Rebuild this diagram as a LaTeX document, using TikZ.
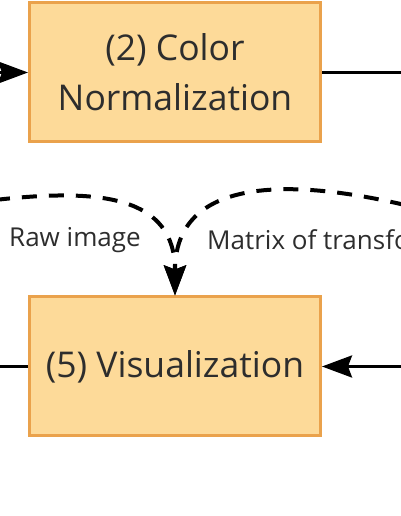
\documentclass[tikz,border=0pt]{standalone}
\usepackage{fontspec}
\setmainfont{Open Sans}
\usetikzlibrary{arrows.meta}
\definecolor{stagefill}{RGB}{253,218,153}
\definecolor{stageline}{RGB}{234,162,76}
\definecolor{labelgray}{RGB}{45,45,45}

\begin{document}
\begin{tikzpicture}[x=1pt,y=1pt]
  \useasboundingbox (0,0) rectangle (400,516);
  \tikzset{stagebox/.style={draw=stageline,fill=stagefill,line width=3pt,minimum width=291pt,minimum height=139pt,
      align=center,text=labelgray,font=\fontsize{35.5}{50}\selectfont},
    flow/.style={line width=3pt},
    flowtip/.style={-{Stealth[length=30pt,width=22pt,inset=4pt]}},
    dataflow/.style={line width=4pt,dash pattern=on 15pt off 12pt},
    datalbl/.style={text=labelgray,font=\fontsize{26}{30}\selectfont,inner sep=0pt}}
  \node[stagebox] (norm) at (175,443.5) {(2) Color\\Normalization};
  \node[stagebox] (vis) at (175,149.5) {(5) Visualization};
  \coordinate (normin) at (-5,443.5);
  \coordinate (normout) at (405,443.5);
  \coordinate (visleft) at (-5,149.5);
  \coordinate (visright) at (405,149.5);
  \coordinate (rawsrc) at (-5,316);
  \coordinate (matsrc) at (405,311);
  \draw[flow,flowtip] (normin) -- (norm.west);
  \draw[flow] (norm.east) -- (normout);
  \draw[flow] (visleft) -- (vis.west);
  \draw[flow,flowtip] (visright) -- (vis.east);
  \draw[dataflow,flowtip] (rawsrc) .. controls (100,328) and (175,320) .. (vis.north);
  \draw[dataflow,flowtip] (matsrc) .. controls (280,340) and (175,335) .. (vis.north);
  \node[datalbl] (rawlbl) at (75,276) {Raw image};
  \node[datalbl,anchor=west] (matlbl) at (207,276) {Matrix of transformation};
\end{tikzpicture}
\end{document}
